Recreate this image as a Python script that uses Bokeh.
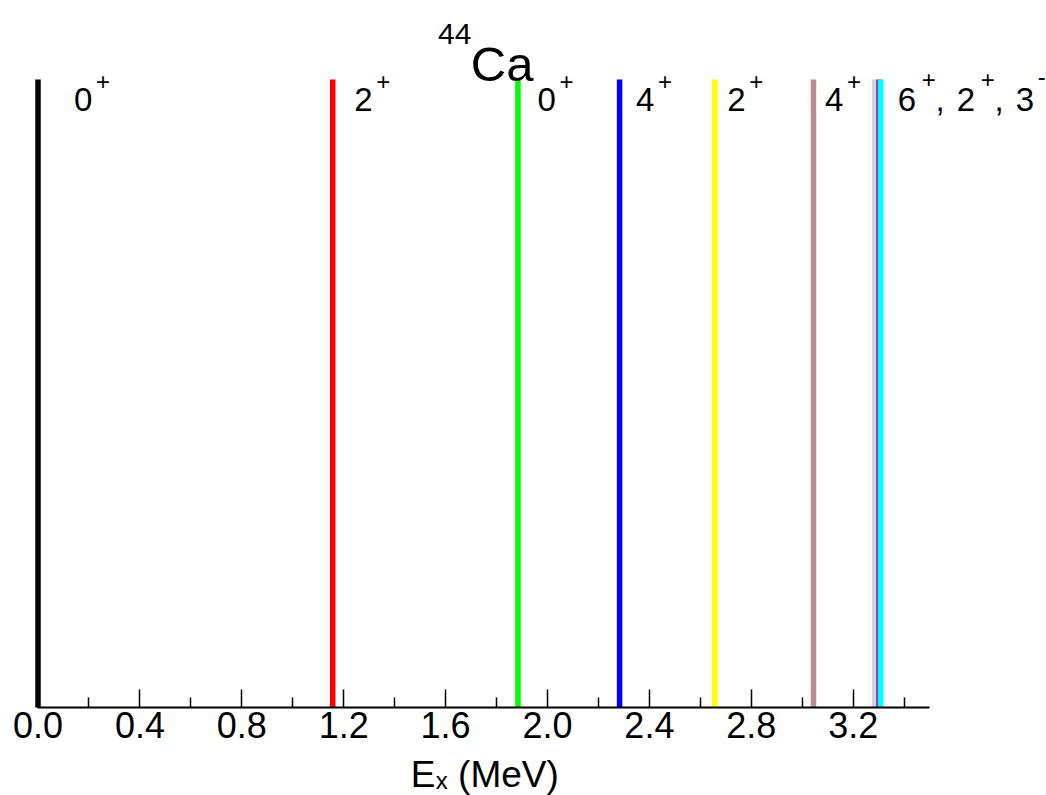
from bokeh.plotting import figure
from bokeh.models import (Range1d, FixedTicker, Label, PrintfTickFormatter, ColumnDataSource,
                          LinearAxis)
from bokeh.embed import file_html
from bokeh.resources import INLINE

# ---- data ----
level_energy = [0.0, 1.157, 1.884, 2.283, 2.657, 3.044, 3.285, 3.301, 3.308]   # MeV
level_spin = ["0", "2", "0", "4", "2", "4", "6", "2", "3"]
level_parity = ["+", "+", "+", "+", "+", "+", "+", "+", "-"]
level_color = ["black", "red", "#00ff00", "blue", "yellow", "rosybrown", "lightgray", "blueviolet", "cyan"]
major_ticks = [0.0, 0.4, 0.8, 1.2, 1.6, 2.0, 2.4, 2.8, 3.2]
minor_ticks = [0.2, 0.6, 1.0, 1.4, 1.8, 2.2, 2.6, 3.0, 3.4]
axis_bounds = (0.0, 3.5)
title_mass = "44"
title_elem = "Ca"
xlabel_main, xlabel_sub, xlabel_unit = "E", "x", "(MeV)"

FONT = "Liberation Sans"

p = figure(width=1046, height=795, output_backend="svg", toolbar_location=None,
           x_range=Range1d(-0.1472, 3.9588), y_range=Range1d(-0.14013, 1.1258),
           x_axis_location=None, y_axis_location=None,
           min_border_left=0, min_border_right=0, min_border_top=0, min_border_bottom=0)
p.outline_line_color = None
p.grid.grid_line_color = None
p.background_fill_color = "white"
p.border_fill_color = "white"

ax = LinearAxis(fixed_location=0)
ax.bounds = axis_bounds
ax.ticker = FixedTicker(ticks=major_ticks, minor_ticks=minor_ticks)
ax.formatter = PrintfTickFormatter(format="%.1f")
ax.major_label_text_font = FONT
ax.major_label_text_font_size = "36px"
ax.major_label_text_color = "black"
ax.major_label_standoff = 5
ax.major_tick_in = 18
ax.major_tick_out = 0
ax.minor_tick_in = 10
ax.minor_tick_out = 0
ax.axis_line_width = 2
ax.axis_line_color = "black"
ax.major_tick_line_width = 1.5
ax.minor_tick_line_width = 1.5
ax.major_tick_line_color = "black"
ax.minor_tick_line_color = "black"
p.add_layout(ax, "below")

n = len(level_energy)
src = ColumnDataSource(dict(x=level_energy, y0=[0] * n, y1=[1] * n, color=level_color))
p.segment(x0="x", y0="y0", x1="x", y1="y1", line_color="color", line_width=5.5, source=src)

MAIN, SUP = "33px", "24px"

# individual level labels (first six levels)
label_dx = [36, 21.5, 19.5, 16.5, 12.5, 11.5]
for i in range(6):
    p.add_layout(Label(x=level_energy[i], y=1, x_offset=label_dx[i], y_offset=-19.5,
                       text=level_spin[i], text_font=FONT, text_font_size=MAIN,
                       text_baseline="alphabetic", text_align="left", text_color="black"))
    p.add_layout(Label(x=level_energy[i], y=1, x_offset=label_dx[i] + 22, y_offset=-1.5,
                       text=level_parity[i], text_font=FONT, text_font_size=SUP,
                       text_baseline="alphabetic", text_align="left", text_color="black"))

# combined label for the close triplet
pieces = [
    (level_spin[6], 23, "main"), (level_parity[6], 47, "sup"), (",", 60.6, "main"),
    (level_spin[7], 82, "main"), (level_parity[7], 106, "sup"), (",", 119.6, "main"),
    (level_spin[8], 141, "main"), (level_parity[8], 163, "sup"),
]
for txt, dx, kind in pieces:
    if kind == "main":
        size, dy = MAIN, -19.5
    else:
        size, dy = SUP, (3.5 if txt == "-" else 0)
    p.add_layout(Label(x=level_energy[6], y=1, x_offset=dx, y_offset=dy, text=txt,
                       text_font=FONT, text_font_size=size, text_baseline="alphabetic",
                       text_align="left", text_color="black"))

# title 44Ca
xc = (axis_bounds[0] + axis_bounds[1]) / 2
p.add_layout(Label(x=xc, y=1, x_offset=-13, y_offset=16, text=title_elem, text_font=FONT,
                   text_font_size="49px", text_baseline="alphabetic", text_align="left",
                   text_color="black"))
p.add_layout(Label(x=xc, y=1, x_offset=-12.5, y_offset=46, text=title_mass, text_font=FONT,
                   text_font_size="30px", text_baseline="alphabetic", text_align="right",
                   text_color="black"))

# axis label E_x (MeV)
p.add_layout(Label(x=xc, y=0, x_offset=-73, y_offset=-67, text=xlabel_main, text_font=FONT,
                   text_font_size="37px", text_baseline="alphabetic", text_align="left",
                   text_color="black"))
p.add_layout(Label(x=xc, y=0, x_offset=-48, y_offset=-73, text=xlabel_sub, text_font=FONT,
                   text_font_size="24px", text_baseline="alphabetic", text_align="left",
                   text_color="black"))
p.add_layout(Label(x=xc, y=0, x_offset=-25.7, y_offset=-67, text=xlabel_unit, text_font=FONT,
                   text_font_size="37px", text_baseline="alphabetic", text_align="left",
                   text_color="black"))

open("out.html", "w").write(file_html(p, INLINE))
